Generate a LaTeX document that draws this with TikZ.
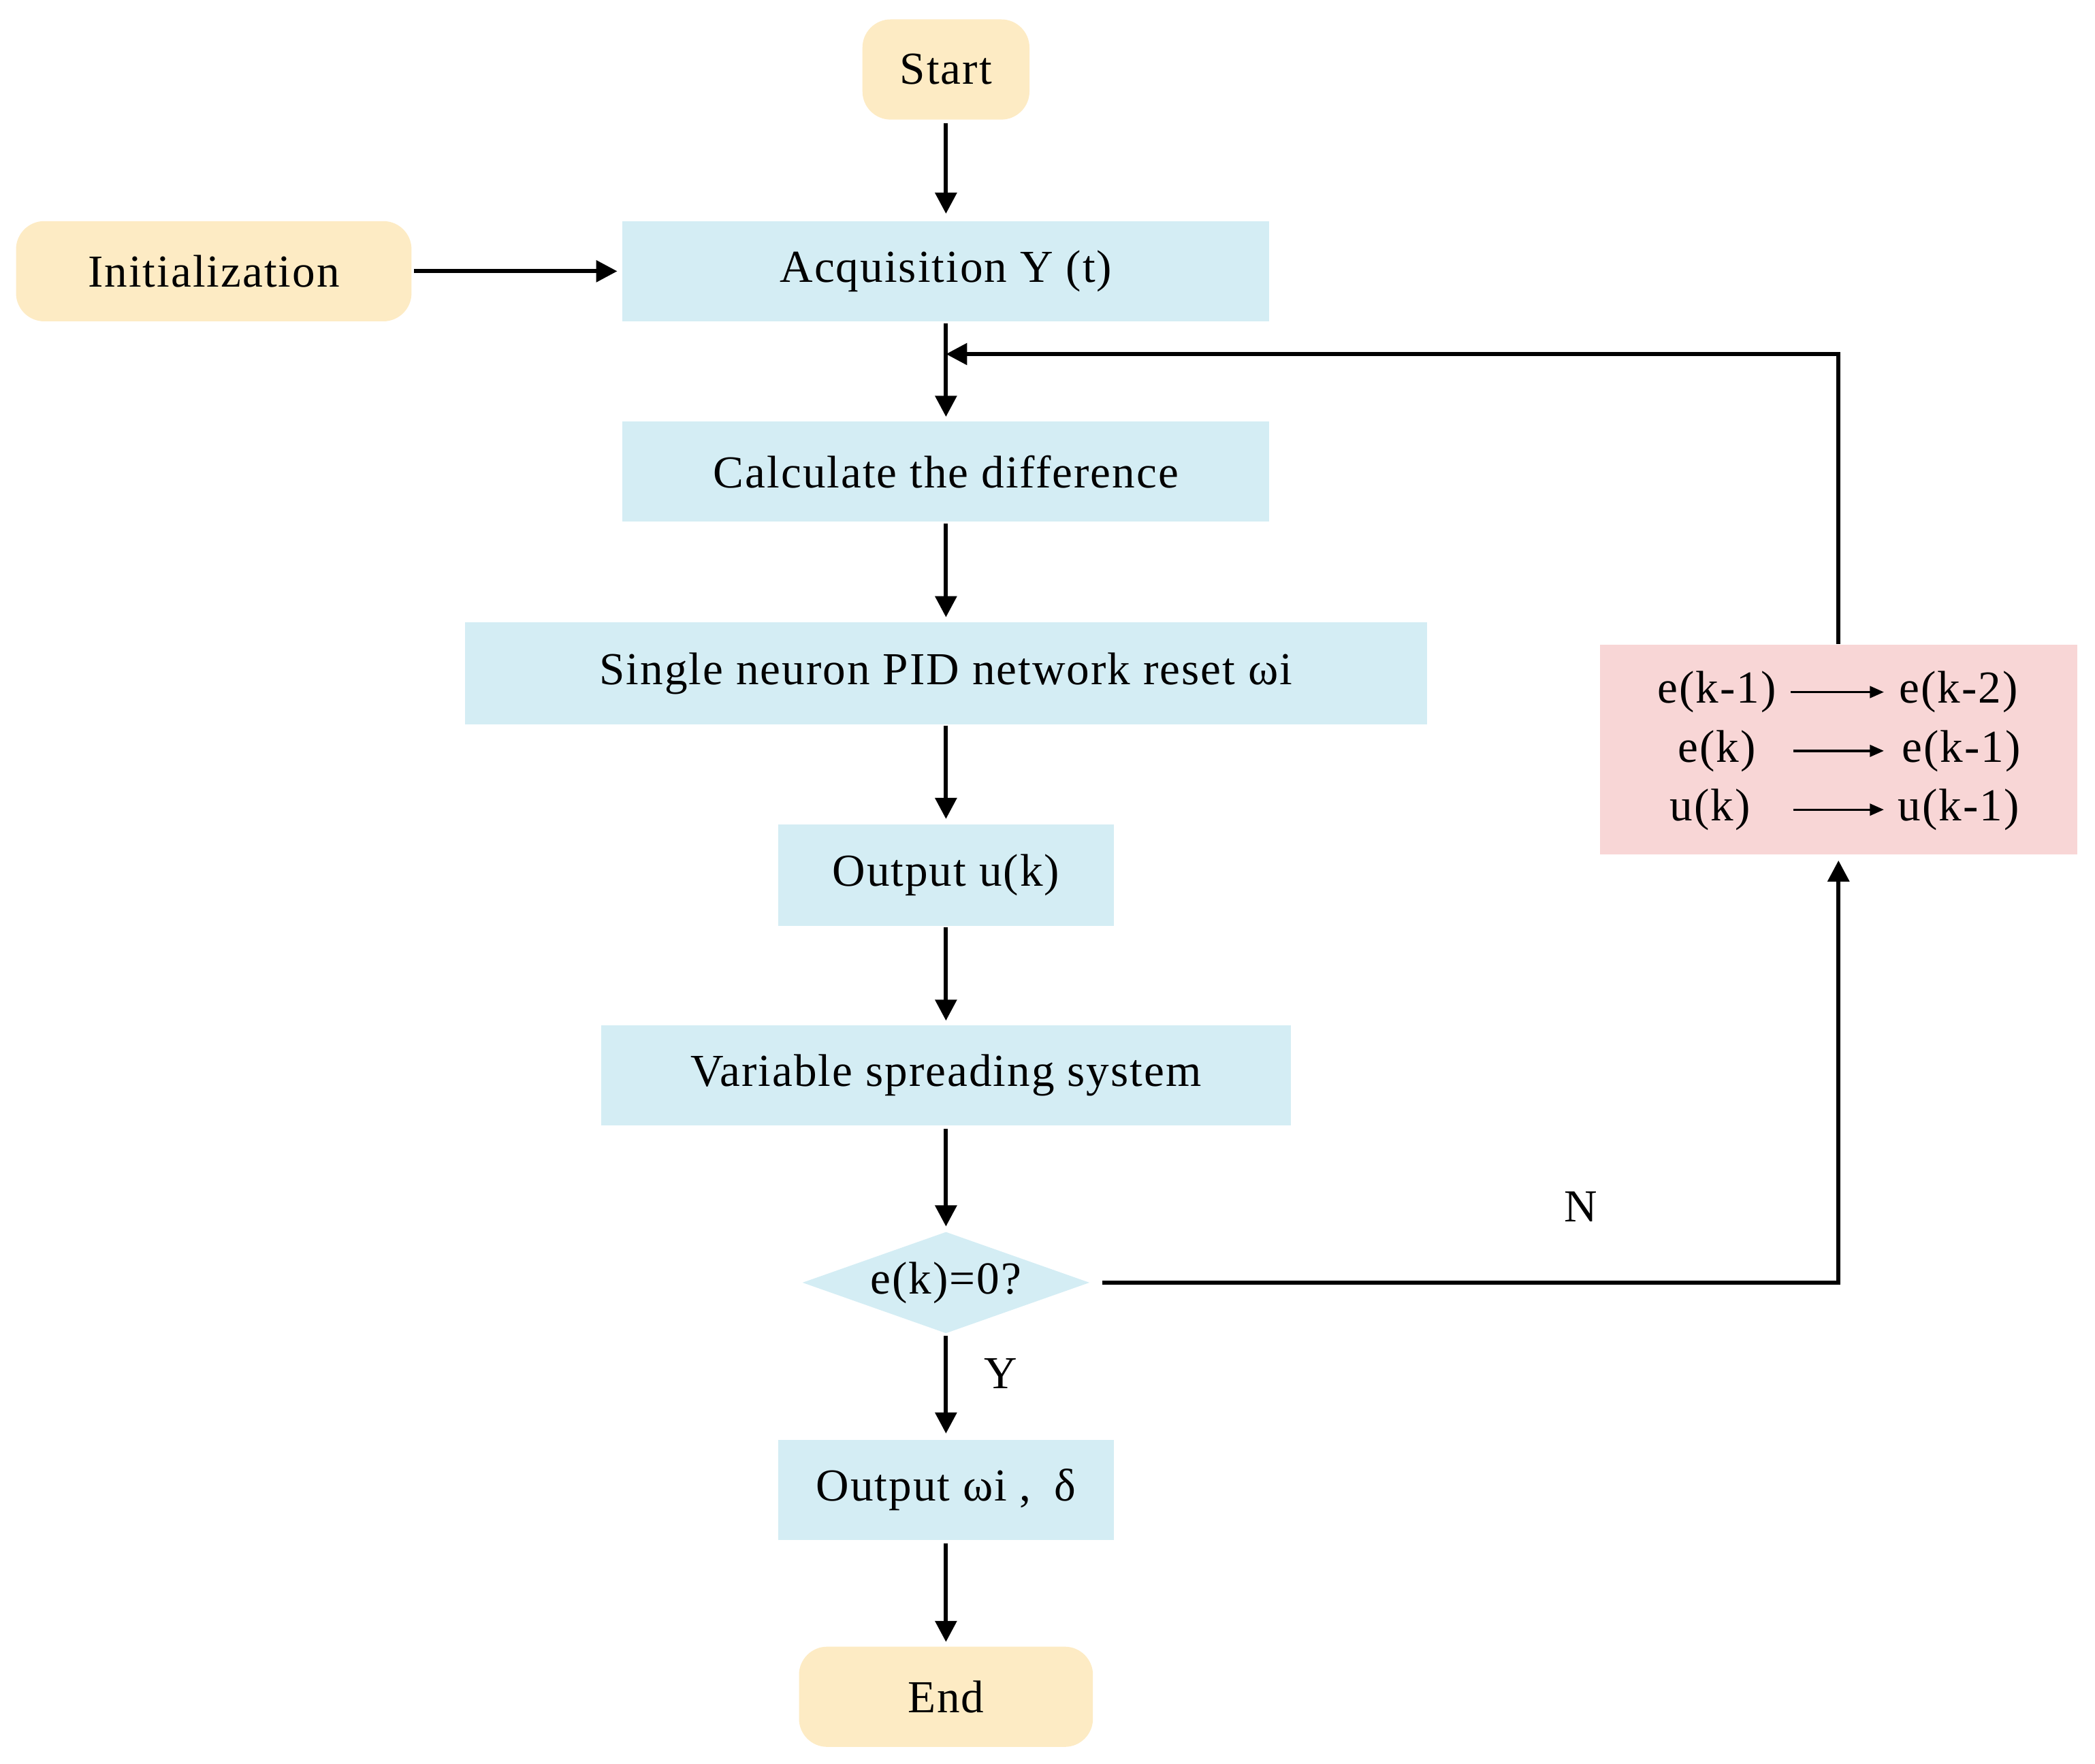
\documentclass[tikz,border=0pt]{standalone}
\usepackage{fontspec}
\setmainfont{Liberation Serif}[LetterSpace=3]
\usetikzlibrary{shapes.geometric,arrows.meta}
\begin{document}
\begin{tikzpicture}[x=0.02cm,y=-0.02cm,
  txt/.style={font=\fontsize{19.5}{22}\selectfont},
  term/.style={txt,rounded corners=12pt,draw=none,inner sep=0},
  proc/.style={txt,draw=none,inner sep=0},
  ar/.style={line width=1.8pt,-{Triangle[length=9pt,width=9pt]}},
  sar/.style={line width=1pt,-{Triangle[length=6pt,width=5pt]}}]
\definecolor{ty}{HTML}{FDEBC4}\definecolor{pb}{HTML}{D4EDF4}\definecolor{pk}{HTML}{F8D6D6}
\useasboundingbox (0,0) rectangle (1568,1320);
\tikzset{term/.append style={fill=ty},proc/.append style={fill=pb}}
\node[term,minimum width=125*0.02cm,minimum height=75*0.02cm] (start) at (708,52) {Start};
\node[term,minimum width=296*0.02cm,minimum height=75*0.02cm] (init) at (160,203) {Initialization};
\node[proc,minimum width=484*0.02cm,minimum height=75*0.02cm] (acq) at (708,203) {Acquisition Y (t)};
\node[proc,minimum width=484*0.02cm,minimum height=75*0.02cm] (calc) at (708,353) {Calculate the difference};
\node[proc,minimum width=720*0.02cm,minimum height=76*0.02cm] (pid) at (708,504) {Single neuron PID network reset ωi};
\node[proc,minimum width=251*0.02cm,minimum height=76*0.02cm] (out) at (708,655) {Output u(k)};
\node[proc,minimum width=516*0.02cm,minimum height=75*0.02cm] (var) at (708,805) {Variable spreading system};
\node[txt,diamond,aspect=2.8,fill=pb,inner sep=0,minimum width=215*0.02cm,minimum height=76*0.02cm] (dec) at (708,960) {};
\node[txt] at (708,960) {e(k)=0?};
\node[proc,minimum width=251*0.02cm,minimum height=75*0.02cm] (outw) at (708,1115) {Output ωi ,\enspace δ};
\node[term,minimum width=220*0.02cm,minimum height=75*0.02cm] (end) at (708,1270) {End};
\node[fill=pk,minimum width=357*0.02cm,minimum height=157*0.02cm,inner sep=0] (pink) at (1376,561) {};
\node[txt] (a1) at (1285,518) {e(k-1)}; \node[txt] (b1) at (1466,518) {e(k-2)};
\node[txt] (a2) at (1285,562) {e(k)};   \node[txt] (b2) at (1468,562) {e(k-1)};
\node[txt] (a3) at (1280,606) {u(k)};   \node[txt] (b3) at (1466,606) {u(k-1)};
\coordinate (p1) at (1340,518); \coordinate (q1) at (1410,518);
\coordinate (p2) at (1342,562); \coordinate (q2) at (1410,562);
\coordinate (p3) at (1342,606); \coordinate (q3) at (1410,606);
\draw[sar] (p1)--(q1); \draw[sar] (p2)--(q2); \draw[sar] (p3)--(q3);
\coordinate (s1) at (708,92); \coordinate (s2) at (708,160);
\draw[ar] (s1)--(s2);
\coordinate (i1) at (310,203); \coordinate (i2) at (462,203);
\draw[ar] (i1)--(i2);
\coordinate (c1) at (708,242); \coordinate (c2) at (708,312);
\draw[ar] (c1)--(c2);
\coordinate (f0) at (1376,482); \coordinate (f1) at (1376,265); \coordinate (f2) at (708,265);
\draw[ar] (f0)--(f1)--(f2);
\foreach \a/\b in {392/462,543/613,694/764,845/918,1000/1073,1155/1229}{
  \coordinate (u) at (708,\a); \coordinate (v) at (708,\b); \draw[ar] (u)--(v);}
\coordinate (d1) at (825,960); \coordinate (d2) at (1376,960); \coordinate (d3) at (1376,644);
\draw[ar] (d1)--(d2)--(d3);
\node[txt] at (1183,903) {N};
\node[txt] at (749,1028) {Y};
\end{tikzpicture}
\end{document}
